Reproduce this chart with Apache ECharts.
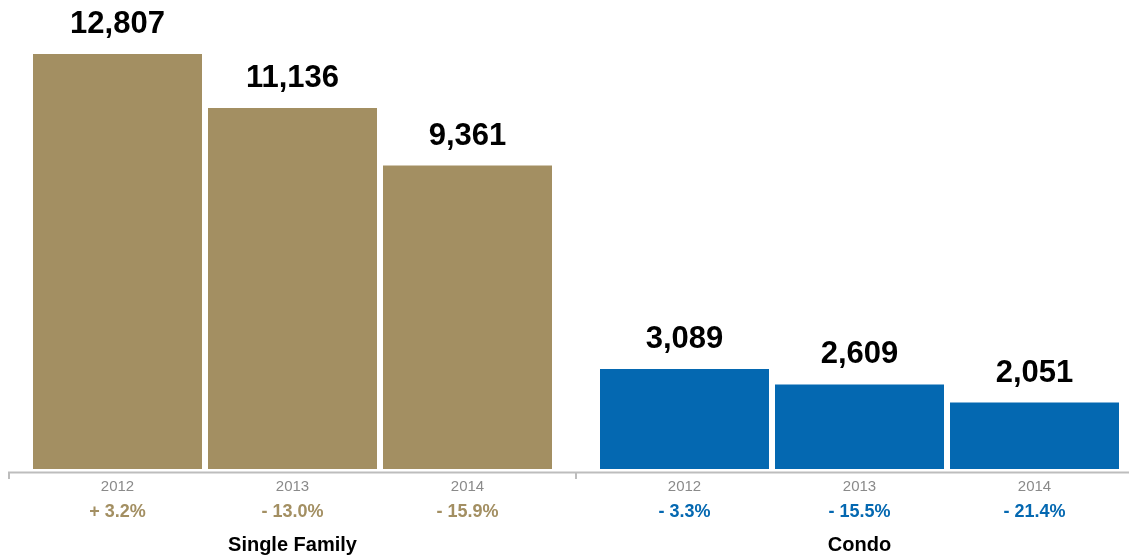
<!DOCTYPE html>
<html>
<head>
<meta charset="utf-8">
<script src="https://cdn.jsdelivr.net/npm/echarts@6/dist/echarts.min.js"></script>
<style>
  html, body { margin: 0; padding: 0; background: #fff; }
  #chart { width: 1129px; height: 560px; }
</style>
</head>
<body>
<div id="chart"></div>
<script>
// Closed sales by property type, 2012–2014
const years = ['2012', '2013', '2014'];
const singleFamily = [12807, 11136, 9361];
const condo = [3089, 2609, 2051];
const singleFamilyChange = ['+ 3.2%', '- 13.0%', '- 15.9%'];
const condoChange = ['- 3.3%', '- 15.5%', '- 21.4%'];
const groupNames = ['Single Family', 'Condo'];

const GOLD = '#A38F62';
const BLUE = '#0468B1';
const FONT = '"Liberation Sans", Arial, Helvetica, sans-serif';

const chart = echarts.init(document.getElementById('chart'));

function xAxisFor(gridIndex, name, changes, color) {
  return {
    type: 'category',
    gridIndex: gridIndex,
    data: years,
    name: name,
    nameLocation: 'middle',
    nameGap: 66,
    nameTextStyle: { fontFamily: FONT, fontSize: 20, fontWeight: 'bold', color: '#000' },
    axisLine: { show: false },
    axisTick: { show: false },
    axisLabel: {
      margin: 5,
      formatter: function (v, i) { return '{y|' + v + '}\n{p|' + changes[i] + '}'; },
      rich: {
        y: { fontFamily: FONT, fontSize: 15, color: '#8a8a8a', lineHeight: 25 },
        p: { fontFamily: FONT, fontSize: 18, fontWeight: 'bold', color: color, lineHeight: 27 }
      }
    }
  };
}

function yAxisFor(gridIndex) {
  return {
    type: 'value', gridIndex: gridIndex, min: 0, max: 14470,
    show: false, splitLine: { show: false }
  };
}

function barSeries(idx, values, color) {
  return {
    type: 'bar',
    xAxisIndex: idx,
    yAxisIndex: idx,
    data: values,
    barWidth: 169,
    itemStyle: { color: color },
    label: {
      show: true,
      position: 'top',
      distance: 14,
      fontFamily: FONT,
      fontSize: 31,
      fontWeight: 'bold',
      color: '#000',
      formatter: function (p) { return p.value.toLocaleString('en-US'); }
    }
  };
}

chart.setOption({
  animation: false,
  backgroundColor: '#fff',
  grid: [
    { left: 30, width: 525, top: 0, bottom: 90 },
    { left: 597, width: 525, top: 0, bottom: 90 }
  ],
  xAxis: [
    xAxisFor(0, groupNames[0], singleFamilyChange, GOLD),
    xAxisFor(1, groupNames[1], condoChange, BLUE)
  ],
  yAxis: [yAxisFor(0), yAxisFor(1)],
  series: [
    barSeries(0, singleFamily, GOLD),
    barSeries(1, condo, BLUE)
  ],
  graphic: [
    // baseline under both groups, with dividing ticks
    { type: 'line', shape: { x1: 8, y1: 472.5, x2: 1129, y2: 472.5 }, style: { stroke: '#bdbdbd', lineWidth: 2 } },
    { type: 'line', shape: { x1: 9, y1: 472, x2: 9, y2: 479 }, style: { stroke: '#bdbdbd', lineWidth: 2 } },
    { type: 'line', shape: { x1: 576, y1: 472, x2: 576, y2: 479 }, style: { stroke: '#bdbdbd', lineWidth: 2 } }
  ]
});
</script>
</body>
</html>
